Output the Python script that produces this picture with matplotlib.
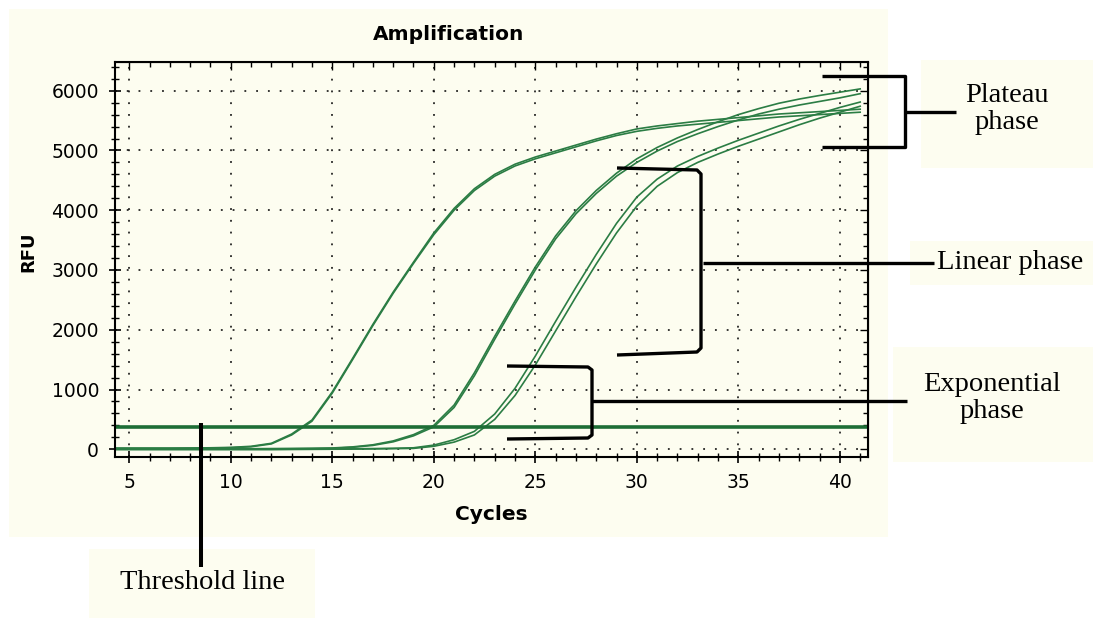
import matplotlib.pyplot as plt
from matplotlib.lines import Line2D
from matplotlib.patches import Rectangle
from matplotlib.ticker import MultipleLocator

# cycles 4..41, RFU
cycles = list(range(4, 42))
rfu_a1 = [20, 20, 20, 20, 22, 25, 32, 50, 100, 255, 490, 960, 1520, 2090, 2630, 3130, 3620, 4030, 4360, 4600,
          4770, 4890, 4990, 5090, 5190, 5280, 5360, 5410, 5450, 5490, 5520, 5550, 5580, 5610, 5630, 5650, 5670, 5690]
rfu_a2 = [15, 15, 15, 15, 17, 20, 26, 42, 90, 240, 470, 940, 1500, 2070, 2610, 3110, 3590, 4000, 4330, 4570,
          4740, 4860, 4960, 5060, 5160, 5250, 5320, 5370, 5410, 5440, 5470, 5500, 5530, 5560, 5580, 5600, 5620, 5640]
rfu_b1 = [10, 10, 10, 10, 10, 10, 10, 10, 12, 14, 17, 22, 40, 75, 140, 245, 400, 740, 1280, 1890,
          2480, 3050, 3570, 3990, 4330, 4620, 4860, 5050, 5210, 5350, 5480, 5600, 5700, 5790, 5860, 5920, 5975, 6030]
rfu_b2 = [5, 5, 5, 5, 5, 5, 5, 5, 7, 9, 12, 17, 33, 65, 125, 225, 375, 700, 1230, 1840,
          2430, 3000, 3520, 3940, 4280, 4570, 4800, 4990, 5150, 5280, 5400, 5510, 5610, 5690, 5760, 5820, 5880, 5950]
rfu_c1 = [0, 0, 0, 0, 0, 0, 0, 0, 0, 2, 4, 6, 9, 12, 17, 25, 70, 160, 300, 590,
          1020, 1560, 2140, 2710, 3260, 3780, 4220, 4520, 4740, 4900, 5040, 5170, 5290, 5410, 5520, 5620, 5720, 5810]
rfu_c2 = [-5, -5, -5, -5, -5, -5, -5, -5, -5, -3, -1, 1, 3, 6, 10, 15, 50, 120, 240, 500,
          900, 1410, 1980, 2550, 3100, 3620, 4070, 4400, 4630, 4800, 4940, 5070, 5190, 5310, 5430, 5540, 5640, 5740]
curves = [rfu_a1, rfu_a2, rfu_b1, rfu_b2, rfu_c1, rfu_c2]
threshold = 375

W, H = 1093, 619
cream = '#fdfdf0'
green = '#2b7d44'


def fx(x):
	return x / W


def fy(y):
	return 1 - y / H


def box(x0, y0, x1, y1):
	fig.add_artist(Rectangle((fx(x0), fy(y1)), (x1 - x0) / W, (y1 - y0) / H, transform=fig.transFigure,
	                         facecolor=cream, edgecolor='none', zorder=-5))


def seg(pts, lw=2.4):
	fig.add_artist(Line2D([fx(p[0]) for p in pts], [fy(p[1]) for p in pts], transform=fig.transFigure,
	                      color='black', lw=lw, solid_joinstyle='round', solid_capstyle='butt', zorder=10))


fig = plt.figure(figsize=(W / 100, H / 100), dpi=100)
fig.patch.set_facecolor('white')

# background panel + label boxes
box(9, 9, 888, 537)
box(921, 60, 1093, 168)
box(910, 241, 1093, 285)
box(893, 347, 1093, 462)
box(89, 549, 315, 618)

ax = fig.add_axes([fx(115), fy(457.3), (867.7 - 115) / W, (457.3 - 61.7) / H])
ax.set_facecolor(cream)

for ys in curves:
	ax.plot(cycles, ys, color=green, lw=1.2)
ax.axhline(threshold, color='#1d6e36', lw=2.6)

ax.set_xlim(4.3, 41.37)
ax.set_ylim(-134, 6485)
ax.xaxis.set_major_locator(MultipleLocator(5))
ax.xaxis.set_minor_locator(MultipleLocator(1))
ax.yaxis.set_major_locator(MultipleLocator(1000))
ax.yaxis.set_minor_locator(MultipleLocator(200))
ax.grid(True, which='major', color='black', linestyle=(0, (1.2, 6.5)), lw=1.1)

ax.tick_params(which='major', direction='inout', length=9, width=1.2, labelsize=13.5)
ax.tick_params(which='minor', direction='inout', length=5.5, width=1.0)
ax.tick_params(axis='x', pad=6.5)
ax.tick_params(axis='y', pad=7)
for s in ax.spines.values():
	s.set_linewidth(1.5)

# inward ticks on top and right
top = ax.secondary_xaxis('top')
top.xaxis.set_major_locator(MultipleLocator(5))
top.xaxis.set_minor_locator(MultipleLocator(1))
top.tick_params(which='both', direction='in', labeltop=False, width=1.0)
top.tick_params(which='major', length=6)
top.tick_params(which='minor', length=3.5)
right = ax.secondary_yaxis('right')
right.yaxis.set_major_locator(MultipleLocator(1000))
right.yaxis.set_minor_locator(MultipleLocator(200))
right.tick_params(which='both', direction='in', labelright=False, width=1.0)
right.tick_params(which='major', length=6)
right.tick_params(which='minor', length=3.5)

fig.text(fx(449), fy(34), 'Amplification', ha='center', va='center', fontsize=14.5, fontweight='bold')
fig.text(fx(491), fy(515), 'Cycles', ha='center', va='center', fontsize=14.5, fontweight='bold')
fig.text(fx(28.5), fy(252), 'RFU', ha='center', va='center', fontsize=13, fontweight='bold', rotation=90)

# phase brackets
seg([(822, 76), (905, 76), (905, 147), (822, 147)])
seg([(906, 112), (956, 112)])
seg([(617, 168), (697, 170), (701, 174), (701, 348), (697, 352), (617, 355)])
seg([(703, 263), (934, 263)])
seg([(507, 366), (588, 367), (592, 370), (592, 435), (588, 438), (507, 439)])
seg([(592, 401), (907, 401)])
seg([(201, 423), (201, 567)], lw=2.9)

serif = dict(family='Liberation Serif', fontsize=20.5)
fig.text(fx(1007), fy(109), 'Plateau\nphase', ha='center', va='center', linespacing=1.1, **serif)
fig.text(fx(937), fy(262), 'Linear phase', ha='left', va='center', **serif)
fig.text(fx(992), fy(398), 'Exponential\nphase', ha='center', va='center', linespacing=1.1, **serif)
fig.text(fx(202), fy(589), 'Threshold line', ha='center', va='baseline', **serif)

plt.savefig('out.png', dpi=100)
